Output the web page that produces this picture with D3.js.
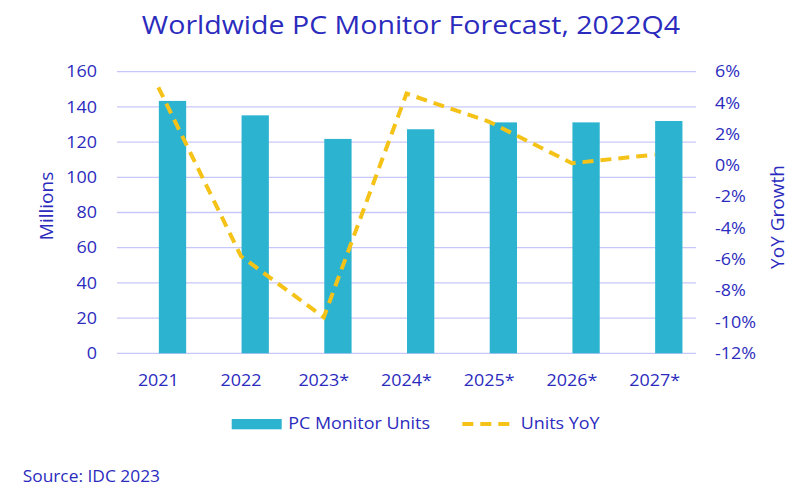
<!DOCTYPE html>
<html>
<head>
<meta charset="utf-8">
<script src="https://cdn.jsdelivr.net/npm/d3@7"></script>
<style>
  html, body { margin: 0; padding: 0; background: #fff; }
  svg { display: block; font-family: "Open Sans", sans-serif; }
</style>
</head>
<body>
<svg id="chart" width="800" height="487"></svg>
<script>
const categories = ["2021", "2022", "2023*", "2024*", "2025*", "2026*", "2027*"];
const units = [143.4, 135.2, 121.8, 127.3, 131.2, 131.2, 132.0];
const yoy = [5.0, -5.8, -9.7, 4.6, 2.8, 0.15, 0.7];
const leftTicks = [0, 20, 40, 60, 80, 100, 120, 140, 160];
const rightTicks = [-12, -10, -8, -6, -4, -2, 0, 2, 4, 6];

(function () {
const textColor = "#2b2bbd";
const barColor = "#2cb3d0";
const lineColor = "#f5c218";
const gridColor = "#c8c8f8";
const K = 1.12; // horizontal stretch of the reference text

const svg = d3.select("#chart");
const pL = 117, pR = 696, pT = 71.7, pB = 353.3;

function stretch(sel) {
  sel.each(function () {
    const x = +this.getAttribute("x") || 0;
    this.setAttribute("transform", `translate(${x},0) scale(${K},1) translate(${-x},0)`);
  });
}

const x = d3.scaleBand().domain(categories).range([pL, pR]).padding(0);
const yL = d3.scaleLinear().domain([0, 160]).range([pB, pT]);
const yR = d3.scaleLinear().domain([-12, 6]).range([pB, pT]);

// gridlines
svg.append("g").selectAll("line").data(leftTicks).join("line")
  .attr("x1", pL).attr("x2", pR)
  .attr("y1", d => yL(d)).attr("y2", d => yL(d))
  .attr("stroke", gridColor).attr("stroke-width", 1.3);

// left axis
const axL = svg.append("g").attr("transform", `translate(${pL},0)`)
  .call(d3.axisLeft(yL).tickValues(leftTicks).tickSize(0).tickPadding(20));
axL.select(".domain").remove();
axL.selectAll("text").attr("fill", textColor).style("font-size", "16px")
  .style("font-family", "'Open Sans', sans-serif").call(stretch);

// right axis
const axR = svg.append("g").attr("transform", `translate(${pR},0)`)
  .call(d3.axisRight(yR).tickValues(rightTicks).tickSize(0).tickPadding(19)
    .tickFormat(d => d + "%"));
axR.select(".domain").remove();
axR.selectAll("text").attr("fill", textColor).style("font-size", "16px")
  .style("font-family", "'Open Sans', sans-serif").call(stretch);

// x axis labels
const axX = svg.append("g").attr("transform", `translate(0,${pB})`)
  .call(d3.axisBottom(x).tickSize(0).tickPadding(21));
axX.select(".domain").remove();
axX.selectAll("text").attr("fill", textColor).style("font-size", "16px")
  .style("font-family", "'Open Sans', sans-serif").call(stretch);

// bars
const bw = x.bandwidth() * 0.33;
svg.append("g").selectAll("rect").data(categories).join("rect")
  .attr("x", d => x(d) + x.bandwidth() / 2 + 0.5)
  .attr("width", bw)
  .attr("y", (d, i) => yL(units[i]))
  .attr("height", (d, i) => yL(0) - yL(units[i]))
  .attr("fill", barColor);

// line
const line = d3.line()
  .x((d, i) => x(categories[i]) + x.bandwidth() / 2)
  .y(d => yR(d));
svg.append("path").datum(yoy)
  .attr("d", line)
  .attr("fill", "none")
  .attr("stroke", lineColor)
  .attr("stroke-width", 4)
  .attr("stroke-dasharray", "11,7");

// title
svg.append("text").attr("x", 411).attr("y", 34.3)
  .attr("text-anchor", "middle").attr("fill", textColor)
  .style("font-size", "25.5px").text("Worldwide PC Monitor Forecast, 2022Q4")
  .call(stretch);

// axis titles
svg.append("text").attr("transform", "translate(53,206) rotate(-90)")
  .attr("text-anchor", "middle").attr("fill", textColor)
  .style("font-size", "19px").text("Millions");
svg.append("text").attr("transform", "translate(784,217) rotate(-90)")
  .attr("text-anchor", "middle").attr("fill", textColor)
  .style("font-size", "19px").text("YoY Growth");

// legend
const lg = svg.append("g");
lg.append("rect").attr("x", 231.7).attr("y", 419).attr("width", 50).attr("height", 10.3)
  .attr("fill", barColor);
lg.append("text").attr("x", 288.3).attr("y", 429.5).attr("fill", textColor)
  .style("font-size", "16px").text("PC Monitor Units").call(stretch);
lg.append("line").attr("x1", 462.3).attr("x2", 512).attr("y1", 424).attr("y2", 424)
  .attr("stroke", lineColor).attr("stroke-width", 4).attr("stroke-dasharray", "11,7");
lg.append("text").attr("x", 520.7).attr("y", 429.5).attr("fill", textColor)
  .style("font-size", "16px").text("Units YoY").call(stretch);

// source
svg.append("text").attr("x", 22.7).attr("y", 482).attr("fill", textColor)
  .style("font-size", "15.5px").text("Source: IDC 2023").call(stretch);
})();
</script>
</body>
</html>
